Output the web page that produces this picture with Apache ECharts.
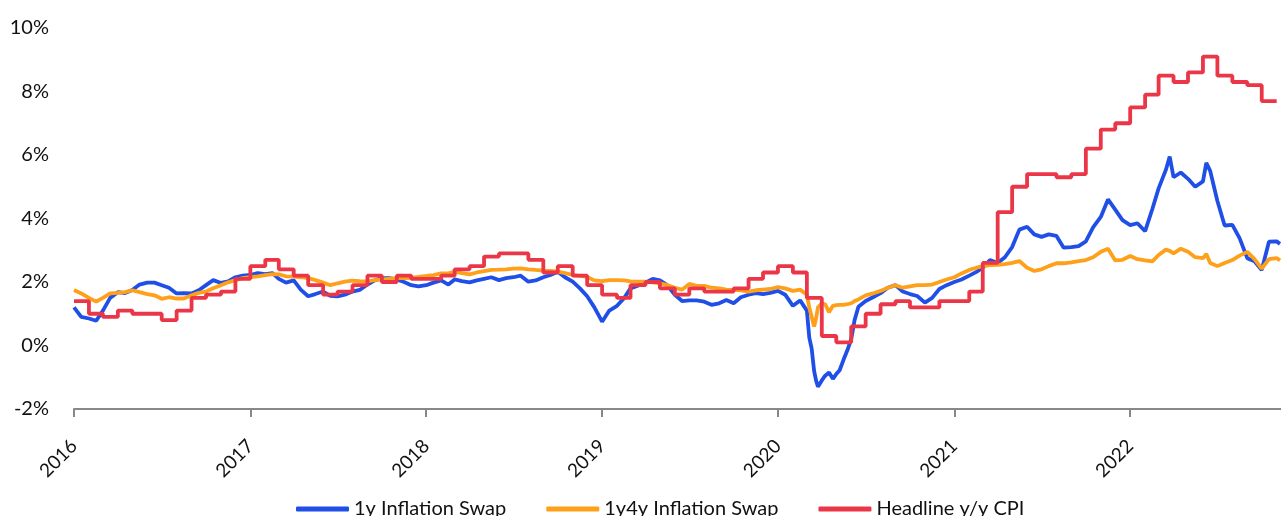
<!DOCTYPE html>
<html>
<head>
<meta charset="utf-8">
<script src="https://cdn.jsdelivr.net/npm/echarts@6/dist/echarts.min.js"></script>
<style>
html,body{margin:0;padding:0;background:#fff;}
#c{width:1281px;height:516px;}
</style>
</head>
<body>
<div id="c"></div>
<script>
// ---------- DATA ----------
const seriesNames = ['1y Inflation Swap', '1y4y Inflation Swap', 'Headline y/y CPI'];
const yearTicks = [2016, 2017, 2018, 2019, 2020, 2021, 2022];
const yTickLabels = ['-2%', '0%', '2%', '4%', '6%', '8%', '10%'];

const swapDates = [
  '2016-01-01','2016-01-16','2016-02-01','2016-02-16','2016-03-01','2016-03-16','2016-04-01','2016-04-16','2016-05-01','2016-05-16','2016-06-01','2016-06-16',
  '2016-07-01','2016-07-16','2016-08-01','2016-08-16','2016-09-01','2016-09-16','2016-10-01','2016-10-16','2016-11-01','2016-11-16','2016-12-01','2016-12-16',
  '2017-01-01','2017-01-16','2017-02-01','2017-02-16','2017-03-01','2017-03-16','2017-04-01','2017-04-16','2017-05-01','2017-05-16','2017-06-01','2017-06-16',
  '2017-07-01','2017-07-16','2017-08-01','2017-08-16','2017-09-01','2017-09-16','2017-10-01','2017-10-16','2017-11-01','2017-11-16','2017-12-01','2017-12-16',
  '2018-01-01','2018-01-16','2018-02-01','2018-02-16','2018-03-01','2018-03-16','2018-04-01','2018-04-16','2018-05-01','2018-05-16','2018-06-01','2018-06-16',
  '2018-07-01','2018-07-16','2018-08-01','2018-08-16','2018-09-01','2018-09-16','2018-10-01','2018-10-16','2018-11-01','2018-11-16','2018-12-01','2018-12-16',
  '2019-01-01','2019-01-16','2019-02-01','2019-02-16','2019-03-01','2019-03-16','2019-04-01','2019-04-16','2019-05-01','2019-05-16','2019-06-01','2019-06-16',
  '2019-07-01','2019-07-16','2019-08-01','2019-08-16','2019-09-01','2019-09-16','2019-10-01','2019-10-16','2019-11-01','2019-11-16','2019-12-01','2019-12-16',
  '2020-01-01','2020-01-16','2020-02-01','2020-02-16','2020-03-01','2020-03-06','2020-03-11','2020-03-16','2020-03-20','2020-03-24','2020-04-01','2020-04-08',
  '2020-04-16','2020-04-24','2020-05-01','2020-05-08','2020-05-16','2020-05-24','2020-06-01','2020-06-08','2020-06-16','2020-07-01','2020-07-16','2020-08-01',
  '2020-08-16','2020-09-01','2020-09-16','2020-10-01','2020-10-16','2020-11-01','2020-11-16','2020-12-01','2020-12-16',
  '2021-01-01','2021-01-16','2021-02-01','2021-02-16','2021-03-01','2021-03-16','2021-04-01','2021-04-16','2021-05-01','2021-05-16','2021-06-01','2021-06-16',
  '2021-07-01','2021-07-16','2021-08-01','2021-08-16','2021-09-01','2021-09-16','2021-10-01','2021-10-16','2021-11-01','2021-11-16','2021-12-01','2021-12-16',
  '2022-01-01','2022-01-16','2022-02-01','2022-02-16','2022-03-01','2022-03-16','2022-03-24','2022-04-01','2022-04-16','2022-05-01','2022-05-16','2022-06-01',
  '2022-06-08','2022-06-16','2022-07-01','2022-07-16','2022-08-01','2022-08-16','2022-09-01','2022-09-16','2022-10-01','2022-10-16','2022-11-01','2022-11-08'
];

const swap1y = [
  // 2016
  1.2,0.9,0.85,0.78,1.1,1.5,1.68,1.65,1.75,1.92,1.98,1.98,1.9,1.82,1.64,1.65,1.64,1.74,1.9,2.06,1.97,2.02,2.15,2.2,
  // 2017
  2.22,2.28,2.25,2.28,2.1,1.98,2.05,1.75,1.55,1.62,1.7,1.56,1.55,1.6,1.7,1.75,1.92,2.05,2.12,2.12,2.08,2.0,1.9,1.86,
  // 2018
  1.9,1.98,2.05,1.92,2.08,2.03,1.99,2.05,2.1,2.15,2.06,2.12,2.15,2.2,2.01,2.05,2.15,2.22,2.32,2.15,2.01,1.8,1.55,1.2,
  // 2019
  0.75,1.1,1.25,1.5,1.8,1.88,1.98,2.1,2.05,1.9,1.6,1.4,1.42,1.42,1.38,1.28,1.33,1.43,1.33,1.52,1.6,1.65,1.62,1.66,
  // 2020
  1.72,1.6,1.25,1.42,1.1,0.25,-0.1,-0.8,-1.1,-1.3,-1.1,-0.95,-0.85,-1.05,-0.9,-0.78,-0.45,-0.15,0.2,0.8,1.22,1.4,1.52,1.65,
  1.82,1.9,1.7,1.62,1.56,1.35,1.5,1.78,1.9,
  // 2021
  2.0,2.08,2.2,2.32,2.45,2.69,2.6,2.78,3.1,3.65,3.74,3.5,3.42,3.5,3.45,3.08,3.1,3.13,3.28,3.72,4.05,4.6,4.28,3.95,
  // 2022
  3.79,3.85,3.6,4.3,4.95,5.53,5.95,5.3,5.45,5.25,5.0,5.17,5.75,5.5,4.55,3.78,3.8,3.38,2.75,2.65,2.38,3.27,3.28,3.2
];

const swap1y4y = [
  // 2016
  1.75,1.64,1.5,1.38,1.5,1.64,1.66,1.68,1.74,1.68,1.62,1.58,1.47,1.52,1.48,1.48,1.58,1.66,1.7,1.8,1.9,1.99,2.06,2.12,
  // 2017
  2.15,2.18,2.22,2.25,2.24,2.18,2.17,2.15,2.12,2.06,1.98,1.9,1.96,2.01,2.04,2.03,2.02,2.06,2.08,2.1,2.12,2.12,2.13,2.16,
  // 2018
  2.19,2.22,2.27,2.27,2.32,2.28,2.24,2.3,2.34,2.38,2.39,2.4,2.42,2.43,2.4,2.38,2.36,2.35,2.33,2.28,2.22,2.19,2.16,2.05,
  // 2019
  2.03,2.06,2.06,2.05,2.02,2.01,2.01,1.99,1.96,1.9,1.82,1.76,1.94,1.88,1.88,1.82,1.8,1.76,1.75,1.74,1.7,1.74,1.76,1.78,
  // 2020
  1.84,1.8,1.72,1.76,1.6,1.2,0.9,0.6,0.85,1.2,1.33,1.3,1.05,1.25,1.27,1.28,1.28,1.3,1.33,1.4,1.45,1.58,1.64,1.72,
  1.82,1.9,1.82,1.86,1.9,1.9,1.92,2.0,2.08,
  // 2021
  2.15,2.27,2.38,2.45,2.5,2.53,2.54,2.56,2.6,2.66,2.45,2.35,2.4,2.5,2.59,2.59,2.62,2.66,2.69,2.78,2.95,3.05,2.68,2.7,
  // 2022
  2.82,2.72,2.68,2.65,2.85,3.02,2.98,2.9,3.05,2.95,2.78,2.75,2.88,2.6,2.5,2.6,2.69,2.83,2.95,2.72,2.42,2.72,2.75,2.68
];

const cpiMonths = [
  '2016-01','2016-02','2016-03','2016-04','2016-05','2016-06','2016-07','2016-08','2016-09','2016-10','2016-11','2016-12',
  '2017-01','2017-02','2017-03','2017-04','2017-05','2017-06','2017-07','2017-08','2017-09','2017-10','2017-11','2017-12',
  '2018-01','2018-02','2018-03','2018-04','2018-05','2018-06','2018-07','2018-08','2018-09','2018-10','2018-11','2018-12',
  '2019-01','2019-02','2019-03','2019-04','2019-05','2019-06','2019-07','2019-08','2019-09','2019-10','2019-11','2019-12',
  '2020-01','2020-02','2020-03','2020-04','2020-05','2020-06','2020-07','2020-08','2020-09','2020-10','2020-11','2020-12',
  '2021-01','2021-02','2021-03','2021-04','2021-05','2021-06','2021-07','2021-08','2021-09','2021-10','2021-11','2021-12',
  '2022-01','2022-02','2022-03','2022-04','2022-05','2022-06','2022-07','2022-08','2022-09','2022-10','2022-11'
];
const cpiYoY = [
  1.4,1.0,0.9,1.1,1.0,1.0,0.8,1.1,1.5,1.6,1.7,2.1,
  2.5,2.7,2.4,2.2,1.9,1.6,1.7,1.9,2.2,2.0,2.2,2.1,
  2.1,2.2,2.4,2.5,2.8,2.9,2.9,2.7,2.3,2.5,2.2,1.9,
  1.6,1.5,1.9,2.0,1.8,1.6,1.8,1.7,1.7,1.8,2.1,2.3,
  2.5,2.3,1.5,0.3,0.1,0.6,1.0,1.3,1.4,1.2,1.2,1.4,
  1.4,1.7,2.6,4.2,5.0,5.4,5.4,5.3,5.4,6.2,6.8,7.0,
  7.5,7.9,8.5,8.3,8.6,9.1,8.5,8.3,8.2,7.7,7.7
];

// ---------- CHART ----------
const FONT = 'Lato, "Open Sans", sans-serif';
const colors = ['#1f4fe6', '#ffa01a', '#eb3647'];

function pd(s) {
  const p = s.split('-').map(Number);
  return new Date(p[0], p[1] - 1, p[2] || 1).getTime();
}
const yearTickValues = yearTicks.map(y => new Date(y, 0, 1).getTime());

const chart = echarts.init(document.getElementById('c'), null, { renderer: 'canvas' });
chart.setOption({
  animation: false,
  backgroundColor: '#ffffff',
  color: colors,
  grid: { left: 74, right: 0, top: 28, bottom: 107 },
  legend: {
    left: 291, top: 494,
    itemWidth: 53, itemHeight: 5, itemGap: 40,
    icon: 'roundRect',
    textStyle: { fontSize: 20, color: '#111', fontFamily: FONT },
    data: seriesNames
  },
  xAxis: {
    type: 'value',
    min: pd('2016-01-01'),
    max: pd('2022-11-10'),
    axisLine: { show: true, onZero: false, lineStyle: { color: '#888', width: 2 } },
    axisTick: { show: true, length: 8, lineStyle: { color: '#888', width: 2 }, customValues: yearTickValues },
    axisLabel: {
      customValues: yearTickValues,
      rotate: 45, margin: 34,
      fontSize: 19, color: '#111', fontFamily: FONT,
      formatter: v => String(new Date(v).getFullYear())
    },
    splitLine: { show: false }
  },
  yAxis: {
    type: 'value', min: -2, max: 10, interval: 2,
    axisLine: { show: false }, axisTick: { show: false }, splitLine: { show: false },
    axisLabel: {
      margin: 25, fontSize: 20, color: '#111', fontFamily: FONT,
      formatter: v => yTickLabels[Math.round((v + 2) / 2)]
    }
  },
  series: [
    {
      name: seriesNames[0], type: 'line', showSymbol: false, symbol: 'none',
      lineStyle: { width: 3.8, color: colors[0] }, itemStyle: { color: colors[0] },
      data: swapDates.map((d, i) => [pd(d), swap1y[i]])
    },
    {
      name: seriesNames[1], type: 'line', showSymbol: false, symbol: 'none',
      lineStyle: { width: 3.8, color: colors[1] }, itemStyle: { color: colors[1] },
      data: swapDates.map((d, i) => [pd(d), swap1y4y[i]])
    },
    {
      name: seriesNames[2], type: 'line', showSymbol: false, symbol: 'none', step: 'end',
      lineStyle: { width: 3.8, color: colors[2] }, itemStyle: { color: colors[2] },
      data: cpiMonths.map((m, i) => [pd(m), cpiYoY[i]])
    }
  ]
});
</script>
</body>
</html>
